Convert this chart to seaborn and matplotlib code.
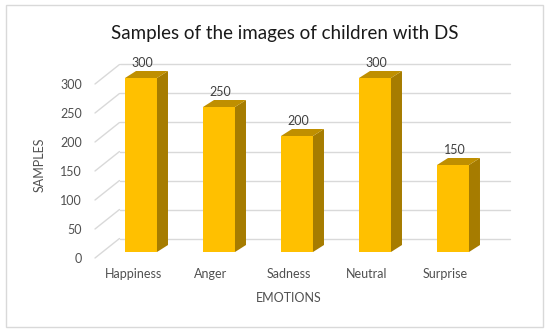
import matplotlib
matplotlib.use("Agg")
import matplotlib.pyplot as plt
import matplotlib.transforms as mtransforms
from matplotlib.patches import Polygon, Rectangle
import pandas as pd
import seaborn as sns

# data
emotions = ['Happiness', 'Anger', 'Sadness', 'Neutral', 'Surprise']
samples = [300, 250, 200, 300, 150]
y_ticks = [0, 50, 100, 150, 200, 250, 300]

df = pd.DataFrame({'Emotion': emotions, 'Samples': samples})

sns.set_theme(style='white')
plt.rcParams['font.family'] = ['Lato', 'DejaVu Sans']

fig = plt.figure(figsize=(5.5, 3.34), dpi=100)
W, H = 550, 334
# axes = the plane of the bars' front faces
ax = fig.add_axes([102 / W, 1 - 252 / H, 390 / W, 174 / H])

front = '#FFC000'
side = '#A67C00'
top = '#BF8F00'
grid = '#D9D9D9'
txt = '#505050'

sns.barplot(data=df, x='Emotion', y='Samples', color=front, saturation=1,
            width=0.41, ax=ax, zorder=3, edgecolor='none')
ax.set_xlim(-0.5, 4.5)
ax.set_ylim(0, 300)
for s in ax.spines.values():
    s.set_visible(False)

def px(dx, dy):
    return mtransforms.ScaledTranslation(dx / 100, dy / 100, fig.dpi_scale_trans)

# back wall gridlines and the diagonals on the side wall
back = ax.transData + px(17.5, 13.5)
front_plane = ax.transData + px(-7, -6)
for t in y_ticks:
    ax.plot([-0.5, 4.5], [t, t], color=grid, lw=1, transform=back,
            clip_on=False, zorder=1)
    ax.annotate('', xy=(-0.5, t), xycoords=back, xytext=(-0.5, t),
                textcoords=front_plane,
                arrowprops=dict(arrowstyle='-', color=grid, lw=1,
                                shrinkA=0, shrinkB=0), zorder=1)

# depth of the bars in data units
ux = 390 / 5
uy = 174 / 300
ddx = 11 / ux
ddy = 7 / uy
for bar, v in zip(ax.patches, samples):
    x0 = bar.get_x()
    x1 = x0 + bar.get_width()
    h = bar.get_height()
    ax.add_patch(Polygon([(x1, 0), (x1, h), (x1 + ddx, h + ddy), (x1 + ddx, ddy)],
                         closed=True, facecolor=side, edgecolor='none',
                         zorder=3, clip_on=False))
    ax.add_patch(Polygon([(x0, h), (x1, h), (x1 + ddx, h + ddy), (x0 + ddx, h + ddy)],
                         closed=True, facecolor=top, edgecolor='none',
                         zorder=3, clip_on=False))
    ax.annotate(str(v), xy=(x0 + bar.get_width() / 2, h), xytext=(1.5, 15),
                textcoords='offset pixels', ha='center', va='center',
                fontsize=9, color='#404040', zorder=4)

# ticks
ax.set_yticks(y_ticks)
ax.set_yticklabels([str(t) for t in y_ticks])
ax.tick_params(axis='y', length=0, pad=14.5, labelsize=9, labelcolor=txt)
ax.tick_params(axis='x', length=0, pad=11.5, labelsize=9, labelcolor=txt)
for lab in ax.get_yticklabels():
    lab.set_transform(lab.get_transform() + px(0, -6))
for lab in ax.get_xticklabels():
    lab.set_transform(lab.get_transform() + px(-8, 0))

ax.set_xlabel('')
ax.set_ylabel('')
fig.text(289 / W, 1 - 298 / H, 'EMOTIONS', ha='center', va='center',
         fontsize=9, color=txt)
fig.text(40 / W, 1 - 165 / H, 'SAMPLES', ha='center', va='center',
         rotation=90, fontsize=9, color=txt)
fig.text(285 / W, 1 - 33 / H, 'Samples of the images of children with DS',
         ha='center', va='center', fontsize=13.5, color='#1a1a1a')

# chart border
fig.patches.append(Rectangle((6 / W, 1 - 327 / H), 537 / W, 322 / H,
                             transform=fig.transFigure, fill=False,
                             edgecolor=grid, lw=1))

fig.savefig('out.png', dpi=100)
